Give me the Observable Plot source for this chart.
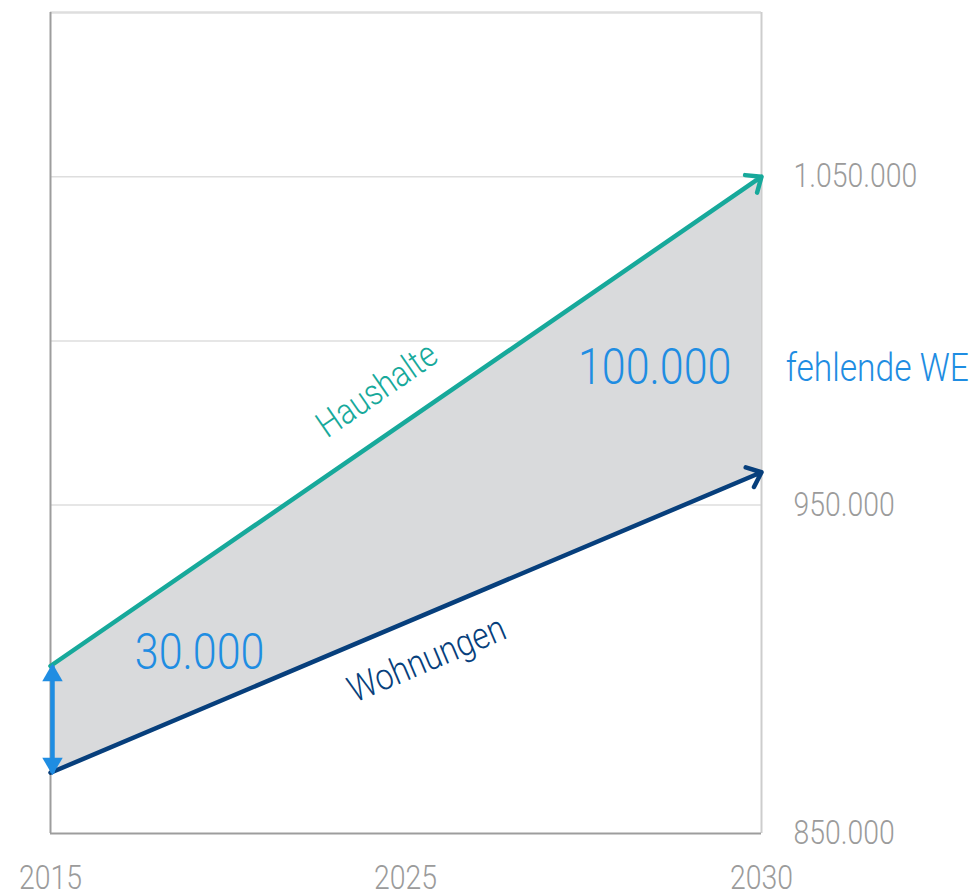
<!DOCTYPE html>
<html>
<head>
<meta charset="utf-8">
<script src="https://cdn.jsdelivr.net/npm/d3@7"></script>
<script src="https://cdn.jsdelivr.net/npm/@observablehq/plot@0.6"></script>
<style>
  html, body { margin: 0; padding: 0; background: #fff; }
  svg { display: block; }
</style>
</head>
<body>
<div id="chart"></div>
<script>
// ---- data ----
const years = [2015, 2025, 2030];           // x-axis tick labels
const dataYears = [2015, 2030];             // years with values
const seriesNames = ["Haushalte", "Wohnungen"];
const haushalte = [901000, 1050000];        // households 2015, 2030
const wohnungen = [868500, 960000];         // dwellings 2015, 2030
const yTicks = [850000, 950000, 1050000];   // labelled y ticks
const gridValues = [950000, 1000000, 1050000];
const gapLabels = ["30.000", "100.000"];
const gapCaption = "fehlende WE";

// ---- derived tables ----
const table = dataYears.map((yr, i) => ({year: yr, haushalte: haushalte[i], wohnungen: wohnungen[i]}));
const series = [
  {name: seriesNames[0], start: haushalte[0], end: haushalte[1], color: "#17a99b"},
  {name: seriesNames[1], start: wohnungen[0], end: wohnungen[1], color: "#073f7c"}
];
const gap2015 = [{year: dataYears[0], lo: wohnungen[0], hi: haushalte[0]}];

const de = d3.formatLocale({decimal: ",", thousands: ".", grouping: [3], currency: ["", " €"]});
const fmt = de.format(",");

const blue = "#1f8de2";
const chart = Plot.plot({
  width: 977,
  height: 891,
  marginTop: 12,
  marginBottom: 58,
  marginLeft: 50,
  marginRight: 216,
  style: {fontFamily: "Roboto, 'Open Sans', sans-serif", fontWeight: 300, color: "#9b9b9b", background: "#fff", overflow: "visible"},
  x: {type: "linear", domain: years, range: [50, 405, 761]},
  y: {domain: [850000, 1100000]},
  marks: [
    // grid + frame
    Plot.ruleY(gridValues, {stroke: "#dedede", strokeWidth: 1.5}),
    Plot.ruleY([1100000], {stroke: "#dedede", strokeWidth: 2.5}),
    Plot.ruleX([years[2]], {stroke: "#cdcdcd", strokeWidth: 2}),
    // gap area
    Plot.areaY(table, {x: "year", y1: "wohnungen", y2: "haushalte", fill: "#d9dadc"}),
    Plot.ruleX([years[0]], {stroke: "#9d9d9d", strokeWidth: 2}),
    Plot.ruleY([850000], {stroke: "#9d9d9d", strokeWidth: 2}),
    // series arrows
    Plot.arrow(series, {
      x1: () => dataYears[0], x2: () => dataYears[1],
      y1: "start", y2: "end",
      stroke: d => d.color, strokeWidth: 4.5,
      headLength: 5.5, headAngle: 80, strokeLinecap: "round", strokeLinejoin: "round"
    }),
    // 2015 gap double arrow
    Plot.link(gap2015, {x1: "year", x2: "year", y1: "lo", y2: "hi", stroke: blue, strokeWidth: 4.5, dx: 2}),
    Plot.dot(gap2015, {x: "year", y: "hi", symbol: "triangle", r: 7.6, fill: blue, stroke: "none", dx: 2, dy: 9.2}),
    Plot.dot(gap2015, {x: "year", y: "lo", symbol: "triangle", r: 7.6, fill: blue, stroke: "none", rotate: 180, dx: 2, dy: -9.2}),
    // annotations
    Plot.text([gapLabels[0]], {x: 2019.2, y: 905000, text: d => d, fill: blue, fontSize: 50, fontWeight: 300}),
    Plot.text([gapLabels[1]], {x: 2028.5, y: 991600, text: d => d, fill: blue, fontSize: 50, fontWeight: 300}),
    Plot.text([gapCaption], {x: 2030.34, y: 991600, text: d => d, fill: blue, fontSize: 39, fontWeight: 300, textAnchor: "start"}),
    Plot.text([seriesNames[0]], {x: 2024.2, y: 985000, text: d => d, fill: series[0].color, fontSize: 36, fontWeight: 300, rotate: -34.7}),
    Plot.text([seriesNames[1]], {x: 2025.3, y: 903000, text: d => d, fill: series[1].color, fontSize: 37, fontWeight: 300, rotate: -23}),
    // axes
    Plot.axisX({ticks: years, tickFormat: d => String(d), tickSize: 0, tickPadding: 32, fontSize: 33, label: null}),
    Plot.axisY({anchor: "right", ticks: yTicks, tickFormat: fmt, tickSize: 0, tickPadding: 32, fontSize: 33, label: null})
  ]
});
document.getElementById("chart").append(chart);

// condense the light sans to mimic the narrow original face
chart.querySelectorAll("text").forEach(t => {
  const len = t.getComputedTextLength();
  if (len > 0) {
    t.setAttribute("textLength", (len * 0.86).toFixed(1));
    t.setAttribute("lengthAdjust", "spacingAndGlyphs");
  }
});
</script>
</body>
</html>
